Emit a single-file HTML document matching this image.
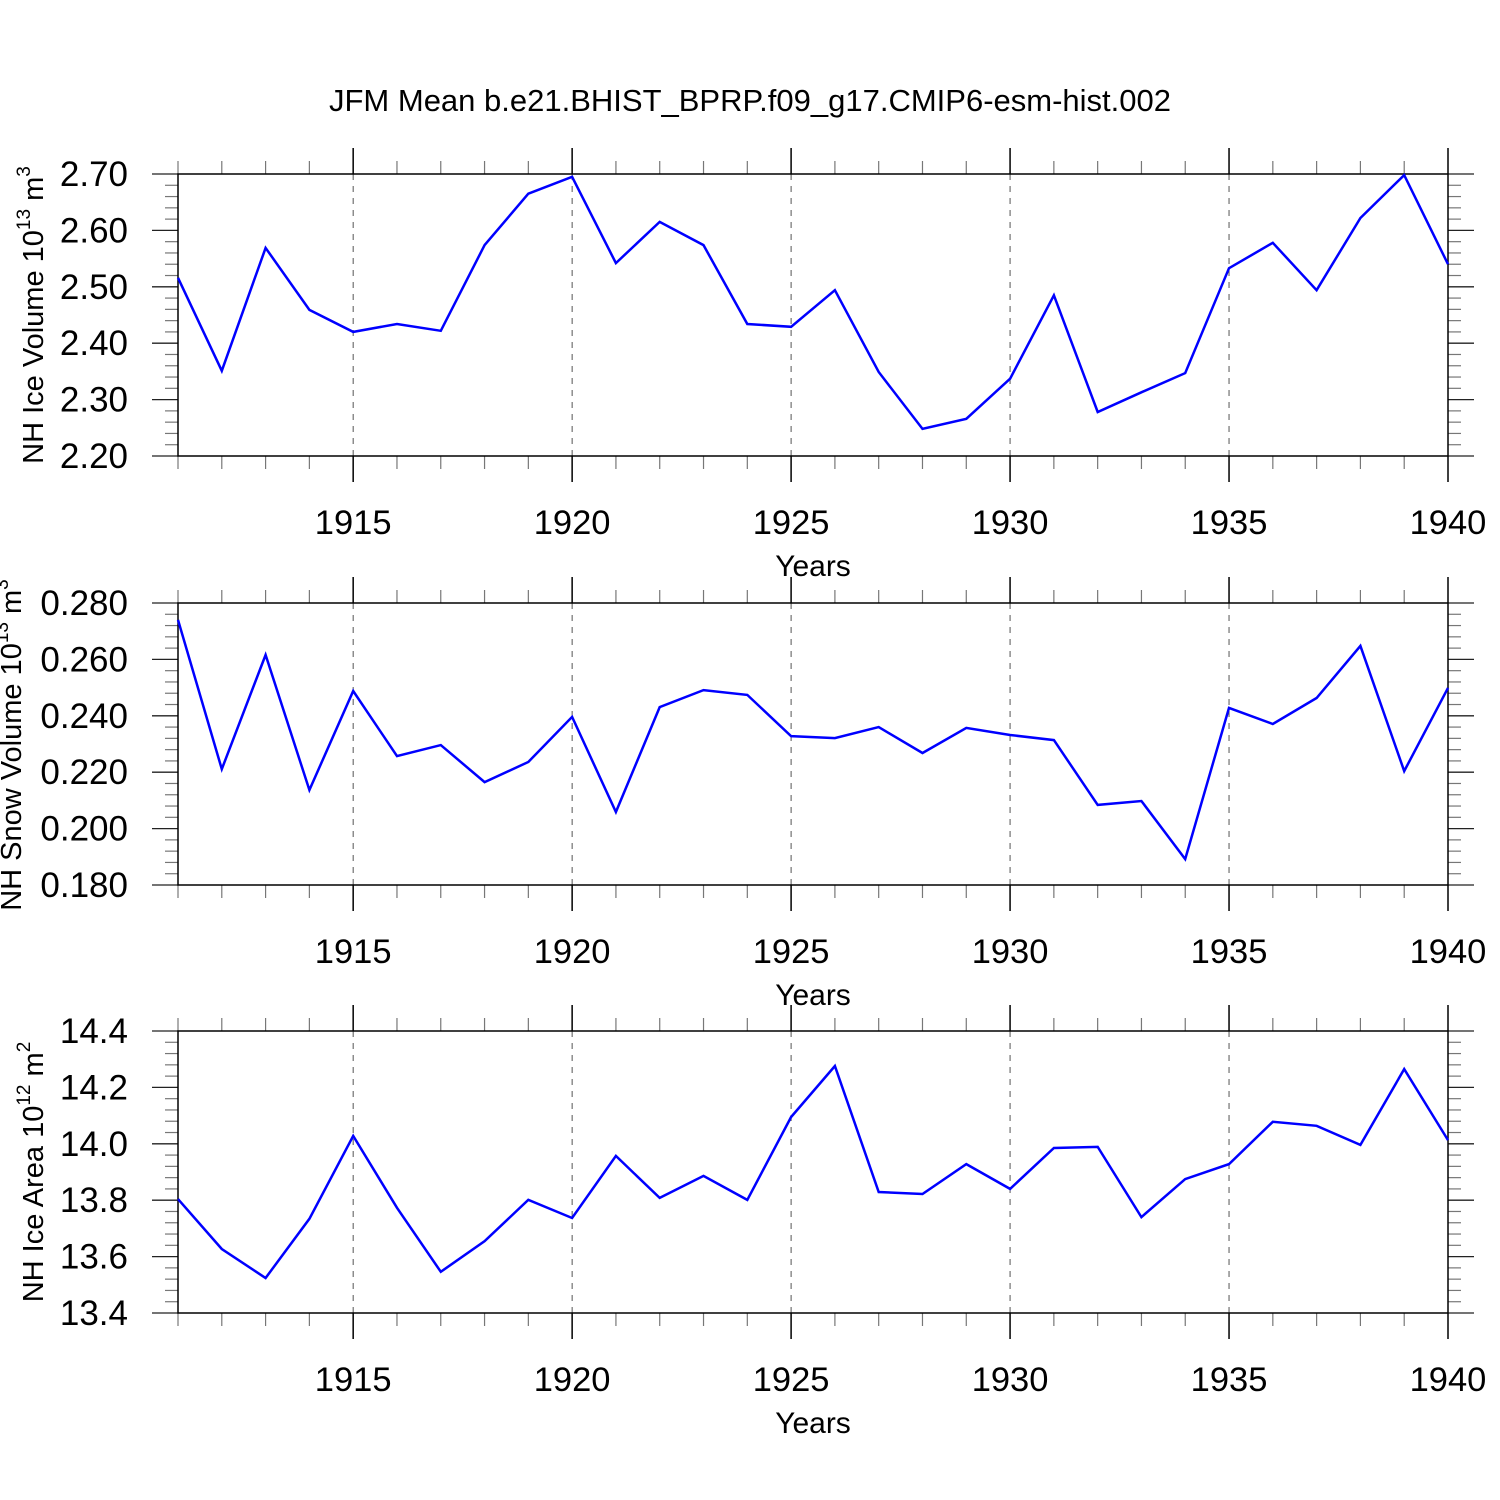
<!DOCTYPE html>
<html><head><meta charset="utf-8"><style>
body{margin:0;background:#fff}
svg{display:block;font-family:"Liberation Sans",Arial,sans-serif}
</style></head><body>
<svg id="c" width="1500" height="1500" xmlns="http://www.w3.org/2000/svg">
<text x="750" y="111" font-size="31" text-anchor="middle">JFM Mean b.e21.BHIST_BPRP.f09_g17.CMIP6-esm-hist.002</text>
</svg>
<script>
const years=[1911,1912,1913,1914,1915,1916,1917,1918,1919,1920,1921,1922,1923,1924,1925,1926,1927,1928,1929,1930,1931,1932,1933,1934,1935,1936,1937,1938,1939,1940];
const iceVolume=[2.516,2.351,2.569,2.459,2.420,2.434,2.422,2.574,2.665,2.695,2.542,2.615,2.574,2.434,2.429,2.494,2.349,2.248,2.266,2.337,2.485,2.278,2.313,2.347,2.533,2.578,2.494,2.622,2.698,2.540];
const snowVolume=[0.2740,0.2211,0.2616,0.2137,0.2488,0.2257,0.2296,0.2165,0.2236,0.2396,0.2059,0.2431,0.2491,0.2474,0.2328,0.2321,0.2360,0.2268,0.2357,0.2332,0.2314,0.2084,0.2098,0.1892,0.2428,0.2371,0.2463,0.2648,0.2204,0.2499];
const iceArea=[13.804,13.627,13.524,13.734,14.028,13.773,13.546,13.655,13.801,13.737,13.957,13.808,13.886,13.801,14.095,14.276,13.829,13.822,13.928,13.840,13.985,13.989,13.740,13.875,13.928,14.078,14.064,13.996,14.265,14.013];
const xTickLabels=["1915","1920","1925","1930","1935","1940"];
const iceVolTicks=["2.20","2.30","2.40","2.50","2.60","2.70"];
const snowTicks=["0.180","0.200","0.220","0.240","0.260","0.280"];
const areaTicks=["13.4","13.6","13.8","14.0","14.2","14.4"];

const svg=document.getElementById('c');
const NS='http://www.w3.org/2000/svg';
function mk(tag,attrs,parent){const e=document.createElementNS(NS,tag);for(const k in attrs)e.setAttribute(k,attrs[k]);(parent||svg).appendChild(e);return e;}
const X0=178,X1=1448,xmin=1911,xmax=1940;
const xs=v=>X0+(v-xmin)/(xmax-xmin)*(X1-X0);

const panels=[
 {top:174,vals:iceVolume,ticks:iceVolTicks,minorN:5,name:'ice-volume',title:['NH Ice Volume 10','13',' m','3'],tx:43,ty:315},
 {top:603,vals:snowVolume,ticks:snowTicks,minorN:5,name:'snow-volume',title:['NH Snow Volume 10','13',' m','3'],tx:21,ty:745},
 {top:1031,vals:iceArea,ticks:areaTicks,minorN:5,name:'ice-area',title:['NH Ice Area 10','12',' m','2'],tx:43,ty:1172}
];
panels.forEach(p=>{
 const top=p.top,bot=top+282;
 const ymin=parseFloat(p.ticks[0]),ymax=parseFloat(p.ticks[p.ticks.length-1]);
 const ys=v=>bot-(v-ymin)/(ymax-ymin)*(bot-top);
 const g=mk('g',{});
 
 
 xTickLabels.forEach(t=>{const x=xs(+t);if(x<X1-1){const l=mk('line',{x1:x,x2:x,y1:top,y2:bot,stroke:'#555','stroke-width':1,'stroke-dasharray':'6,6'},g);}});
 for(let y=xmin;y<=xmax;y++){const x=xs(y);const major=y%5===0;const len=major?26:13;
  mk('line',{x1:x,x2:x,y1:top-len,y2:top,stroke:major?'#000':'#777','stroke-width':major?1.5:1.2},g);
  mk('line',{x1:x,x2:x,y1:bot,y2:bot+len,stroke:major?'#000':'#777','stroke-width':major?1.5:1.2},g);}
 const step=(ymax-ymin)/(p.ticks.length-1);
 for(let i=0;i<p.ticks.length;i++){const v=ymin+i*step,y=ys(v);
  mk('line',{x1:152,x2:X0,y1:y,y2:y,stroke:'#222','stroke-width':1.3},g);
  mk('line',{x1:X1,x2:1474,y1:y,y2:y,stroke:'#222','stroke-width':1.3},g);
  const t=mk('text',{x:128,y:y+12,'font-size':35,'text-anchor':'end'},g);t.textContent=p.ticks[i];
  
  if(i<p.ticks.length-1){for(let k=1;k<p.minorN;k++){const ym=ys(v+k*step/p.minorN);
   mk('line',{x1:165,x2:X0,y1:ym,y2:ym,stroke:'#777','stroke-width':1.2},g);
   mk('line',{x1:X1,x2:1461,y1:ym,y2:ym,stroke:'#777','stroke-width':1.2},g);}}
 }
 const fr=mk('rect',{x:X0,y:top,width:X1-X0,height:bot-top,fill:'none',stroke:'#000','stroke-width':1.5},g);
 
 xTickLabels.forEach(t=>{const tx=mk('text',{x:xs(+t),y:bot+78,'font-size':34.5,'text-anchor':'middle'},g);tx.textContent=t;
  });
 const yl=mk('text',{x:813,y:bot+120,'font-size':30,'text-anchor':'middle'},g);yl.textContent='Years';
 
 const tt=mk('text',{x:0,y:0,'font-size':29,'text-anchor':'middle',transform:`translate(${p.tx},${p.ty}) rotate(-90)`},g);
 
 p.title.forEach((s,i)=>{const ts=mk('tspan',{},tt);ts.textContent=s;if(i%2===1){ts.setAttribute('font-size','19');ts.setAttribute('dy','-13');}else if(i>0){ts.setAttribute('dy','13');}});
 const pts=p.vals.map((v,i)=>xs(years[i]).toFixed(1)+','+ys(v).toFixed(1)).join(' ');
 const pl=mk('polyline',{points:pts,fill:'none',stroke:'#0000ff','stroke-width':2.5,'stroke-linejoin':'miter'},g);
 
});
</script>
</body></html>
